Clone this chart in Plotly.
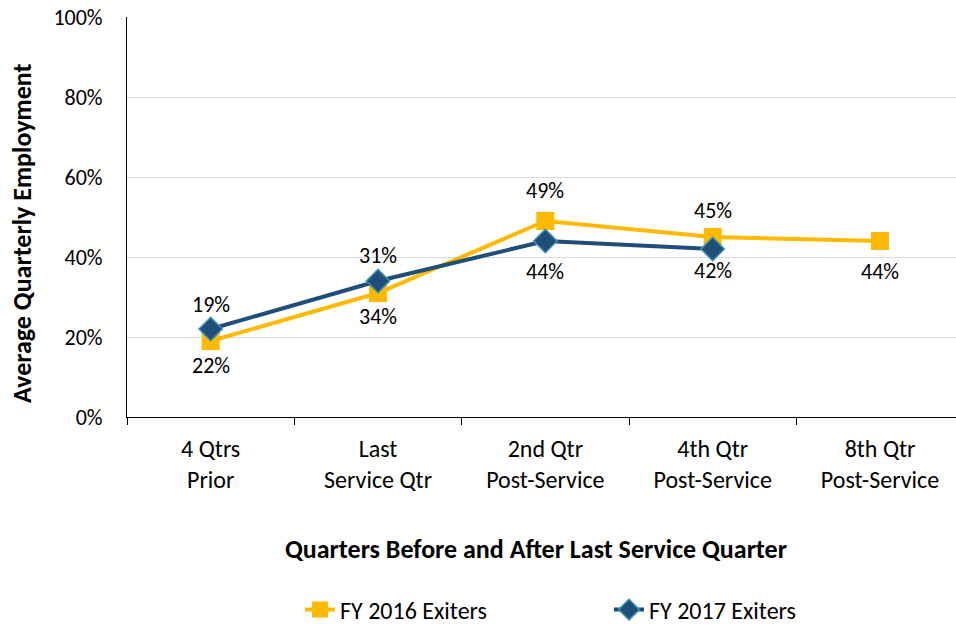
import plotly.graph_objects as go

categories = ["4 Qtrs<br>Prior", "Last<br>Service Qtr", "2nd Qtr<br>Post-Service",
              "4th Qtr<br>Post-Service", "8th Qtr<br>Post-Service"]
fy2016 = [19, 31, 49, 45, 44]
fy2017 = [22, 34, 44, 42]
y_ticks = [0, 20, 40, 60, 80, 100]
y_tick_labels = ["0%", "20%", "40%", "60%", "80%", "100%"]

# label offsets (px) per point
off2016 = [37, 38, 31, 27, -30]
off2017 = [-36, -35, -30, -21]

FONT = "Carlito, Lato, sans-serif"
ORANGE = "#FFB900"
NAVY = "#1F4E79"

fig = go.Figure()
fig.add_trace(go.Scatter(
    x=categories, y=fy2016, name="FY 2016 Exiters", mode="lines+markers",
    line=dict(color=ORANGE, width=4),
    marker=dict(symbol="square", size=18, color=ORANGE, line=dict(width=0)),
))
fig.add_trace(go.Scatter(
    x=categories[:len(fy2017)], y=fy2017, name="FY 2017 Exiters", mode="lines+markers",
    line=dict(color=NAVY, width=4),
    marker=dict(symbol="diamond", size=18, color=NAVY, line=dict(width=1.5, color="#3A93B5")),
))

for c, v, o in zip(categories, fy2016, off2016):
    fig.add_annotation(x=c, y=v, text=f"{v}%", showarrow=False, yshift=o,
                       font=dict(family=FONT, size=22, color="black"))
for c, v, o in zip(categories, fy2017, off2017):
    fig.add_annotation(x=c, y=v, text=f"{v}%", showarrow=False, yshift=o,
                       font=dict(family=FONT, size=22, color="black"))

fig.add_annotation(xref="paper", yref="paper", x=(536 - 127) / 829, y=(417 - 549) / 400,
                   text="<b>Quarters Before and After Last Service Quarter</b>",
                   showarrow=False, yanchor="middle",
                   font=dict(family=FONT, size=26, color="black"))
fig.add_annotation(xref="paper", yref="paper", x=(22 - 127) / 829, y=(417 - 233) / 400,
                   text="<b>Average Quarterly Employment</b>", textangle=-90,
                   showarrow=False, xanchor="center", yanchor="middle",
                   font=dict(family=FONT, size=26, color="black"))

fig.update_layout(
    width=956, height=626,
    margin=dict(l=127, r=0, t=17, b=209, autoexpand=False),
    plot_bgcolor="white", paper_bgcolor="white",
    font=dict(family=FONT, size=22, color="black"),
    showlegend=True,
    legend=dict(orientation="h", x=(300 - 127) / 829, xanchor="left",
                y=(417 - 610) / 400, yanchor="middle",
                entrywidth=264, entrywidthmode="pixels",
                font=dict(family=FONT, size=24, color="black")),
    xaxis=dict(type="category", range=[-0.5, 4.454], tickson="boundaries",
               ticks="outside", ticklen=7, tickcolor="black",
               showline=True, linecolor="black", linewidth=1,
               showgrid=False, ticklabelstandoff=10,
               tickfont=dict(family=FONT, size=24)),
    yaxis=dict(range=[0, 100], tickvals=y_ticks, ticktext=y_tick_labels,
               showline=True, linecolor="black", linewidth=1,
               showgrid=True, gridcolor="#D9D9D9", gridwidth=1,
               zeroline=False, ticks="", ticklabelstandoff=19,
               tickfont=dict(family=FONT, size=22)),
)

fig.write_html("out.html")
